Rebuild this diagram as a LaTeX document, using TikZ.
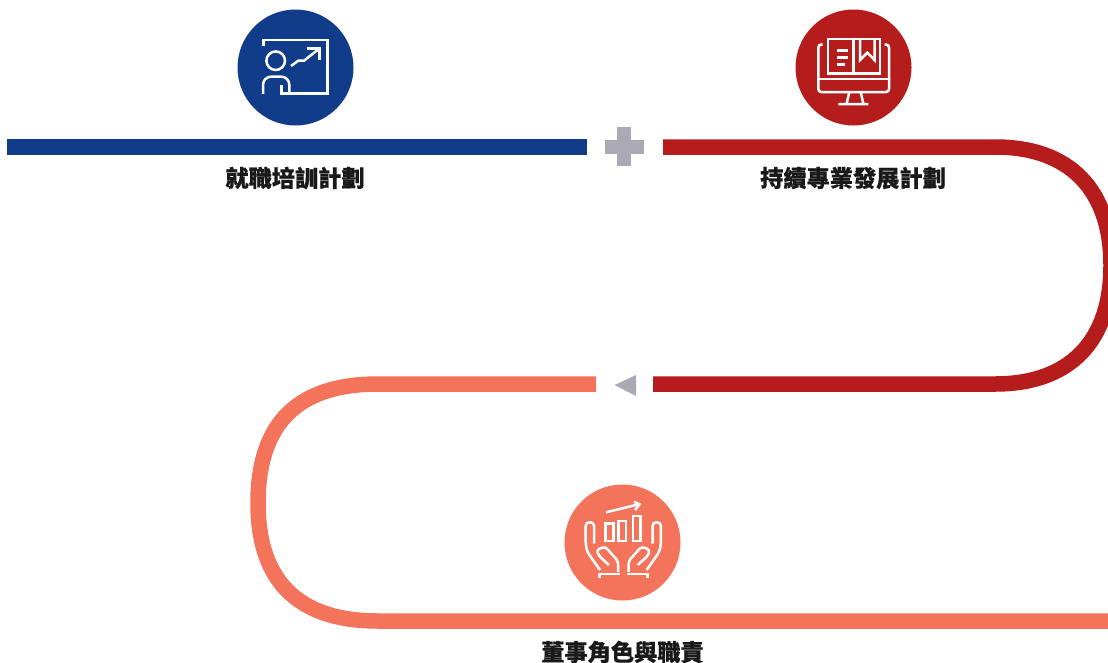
\documentclass[tikz,border=0pt]{standalone}
\usepackage{fontspec}
\newfontfamily\cjk[BoldFont={Noto Sans CJK TC Black},BoldFeatures={FakeBold=0.6}]{Noto Sans CJK TC}
\definecolor{navy}{HTML}{113C8A}
\definecolor{crim}{HTML}{B41D1B}
\definecolor{coral}{HTML}{F4735B}
\definecolor{mark}{HTML}{ABA9B3}
\tikzset{
 band/.style={line width=15.5pt},
 ico/.style={draw=white,line width=2.5pt,fill=none,line join=miter},
 disc/.style={circle,minimum size=116pt,inner sep=0pt},
 lab/.style={font=\cjk\bfseries\fontsize{23.2pt}{24pt}\selectfont,text=black!90,inner sep=0pt,anchor=center},
 sym/.style={fill=mark,draw=none}
}
\begin{document}
\begin{tikzpicture}[x=1pt,y=-1pt]
\useasboundingbox[clip] (0,0) rectangle (1108,662);
\coordinate (a1) at (7,147); \coordinate (a2) at (587,147);
\draw[band,navy] (a1) -- (a2);
\coordinate (b1) at (663,147); \coordinate (b2) at (653,384);
\draw[band,crim] (b1) -- (995,147) .. controls (1070,147) and (1111,190) .. (1111,265.5) .. controls (1111,341) and (1070,384) .. (995,384) -- (b2);
\coordinate (c1) at (596,384); \coordinate (c2) at (1108,621);
\draw[band,coral] (c1) -- (378,384) .. controls (298,384) and (258,423) .. (258,503) .. controls (258,581) and (298,621) .. (378,621) -- (c2);
\node[disc,fill=navy] (d1) at (295.5,67.5) {};
\node[disc,fill=crim] (d2) at (853.5,67.5) {};
\node[disc,fill=coral] (d3) at (622.5,542.5) {};
\fill[sym] (617,127) rectangle (631,166);
\fill[sym] (605,140) rectangle (644,154);
\fill[sym] (614.5,385) -- (636,375) -- (636,396) -- cycle;
\node[lab] (t1) at (295,178) {就職培訓計劃};
\node[lab] (t2) at (853,178) {持續專業發展計劃};
\node[lab] (t3) at (622.5,652) {董事角色與職責};
% icon 1
\draw[ico] (263.3,46) -- (263.3,40) -- (327.3,40) -- (327.3,93.5) -- (281.7,93.5) -- (281.7,85);
\draw[ico] (275.7,60.7) circle (9.3);
\draw[ico,rounded corners=8pt] (263,94) -- (263,76.7) -- (289.3,76.7) -- (289.3,94);
\draw[ico] (291,66) -- (298.3,60.7) -- (304,60.7) -- (317.5,50);
\draw[ico] (307.3,48.3) -- (319.3,48.3) -- (319.3,60);
% icon 2
\draw[ico] (853.5,39) -- (828,39) -- (828,73.5) -- (853.5,73.5);
\draw[ico] (853.5,39) -- (880,39) -- (880,73.5) -- (853.5,73.5);
\draw[ico,line width=3.5pt] (853.5,38) -- (853.5,75);
\draw[ico] (836.7,50.7) -- (848,50.7) (836.7,57.7) -- (848,57.7) (836.7,64.3) -- (844.5,64.3);
\draw[ico] (860,39) -- (860,60) -- (867.3,52.7) -- (874.5,60) -- (874.5,39);
\draw[ico,rounded corners=3pt] (822.7,44.5) -- (818.3,44.5) -- (818.3,92) -- (889,92) -- (889,44.5) -- (884.5,44.5);
\draw[ico] (818.3,79) -- (889,79);
\draw[ico] (849.3,92) -- (846.7,103.5) (860.7,92) -- (863.3,103.5) (838.3,104) -- (868.3,104);
% icon 3
\draw[ico] (606,512.3) -- (638.5,504.4);
\draw[ico] (634,501.7) -- (639.5,504.3) -- (635,510);
\draw[ico] (605.5,523.3) rectangle (613.3,541);
\draw[ico] (618.5,521) rectangle (626,541);
\draw[ico] (633,516) rectangle (640.7,541);
\foreach \s/\o in {1/0,-1/1246.6}{
\begin{scope}[shift={(\o,0)},xscale=\s]
\draw[ico,rounded corners=3.5pt] (600,570) -- (587.3,552) -- (585.7,545) -- (585.7,522.3) -- (594,522.3) -- (594,543.5);
\draw[ico,rounded corners=3pt] (618,572) -- (618,561) -- (605,546.5) -- (596.5,550) -- (599,556) -- (609,565);
\draw[ico] (599.3,578) -- (599.3,574) -- (619.5,574);
\end{scope}}
\end{tikzpicture}
\end{document}
